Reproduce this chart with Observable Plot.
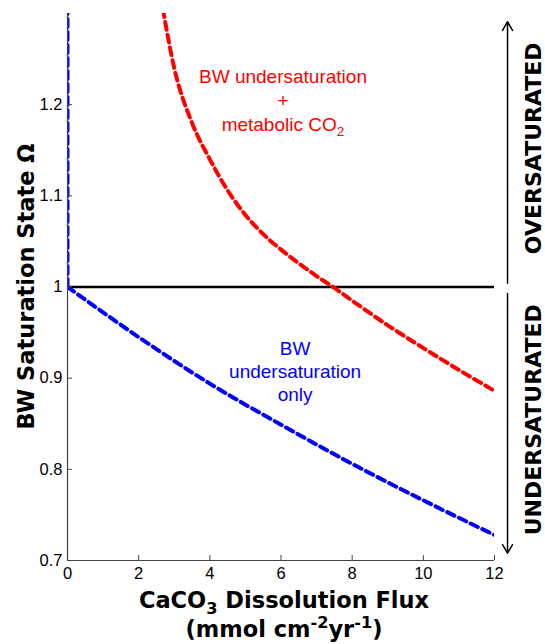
<!DOCTYPE html>
<html><head><meta charset="utf-8">
<script src="https://cdn.jsdelivr.net/npm/d3@7"></script>
<script src="https://cdn.jsdelivr.net/npm/@observablehq/plot@0.6"></script>
<style>body{margin:0;background:#fff} svg{display:block}</style>
</head><body><div id="chart"></div>
<script>
// Data
const xTicks = [0, 2, 4, 6, 8, 10, 12];
const yTicks = [0.7, 0.8, 0.9, 1, 1.1, 1.2];
const yTickLabels = ["0.7", "0.8", "0.9", "1", "1.1", "1.2"];

// BW undersaturation + metabolic CO2 (red)
const redX = [2.68, 3.0, 3.5, 4.0, 4.5, 5.0, 5.5, 6.0, 6.5, 7.0, 7.5, 8.0, 9.0, 10.0, 11.0, 12.0];
const redY = [1.305, 1.240, 1.180, 1.140, 1.106, 1.079, 1.058, 1.041, 1.026, 1.012, 0.999, 0.985, 0.958, 0.933, 0.909, 0.886];

// BW undersaturation only (blue)
const blueX = [0, 2, 4, 6, 8, 10, 12];
const blueY = [1.0, 0.945, 0.894, 0.849, 0.806, 0.766, 0.728];
// blue vertical part at zero flux (oversaturated waters)
const blueRiseX = [0, 0];
const blueRiseY = [1.0, 1.3];

const equilibrium = [1];
const regions = [
  {name: "OVERSATURATED", from: 1.004, to: 1.291, mid: 1.1516},
  {name: "UNDERSATURATED", from: 0.993, to: 0.708, mid: 0.8538}
];

const redRows = redX.map((x, i) => ({x, y: redY[i]}));
const blueRows = blueX.map((x, i) => ({x, y: blueY[i]}));
const blueRiseRows = blueRiseX.map((x, i) => ({x, y: blueRiseY[i]}));

const axisColor = "#444";
const dash = "8,5";

const chart = Plot.plot({
  width: 545, height: 644,
  marginLeft: 67, marginRight: 51, marginTop: 13, marginBottom: 84,
  x: {domain: [0, 12], label: null},
  y: {domain: [0.7, 1.3], label: null},
  style: {fontFamily: "'Liberation Sans', Arial, sans-serif", background: "white"},
  marks: [
    Plot.ruleY(equilibrium, {stroke: "black", strokeWidth: 2.5}),
    Plot.line(blueRiseRows, {x: "x", y: "y", stroke: "#0000ff", strokeWidth: 4, strokeDasharray: dash, clip: true}),
    Plot.line(blueRows, {x: "x", y: "y", stroke: "#0000ff", strokeWidth: 4, strokeDasharray: dash, curve: "monotone-x", clip: true}),
    Plot.line(redRows, {x: "x", y: "y", stroke: "#ff0000", strokeWidth: 4, strokeDasharray: dash, curve: "monotone-x", clip: true}),
    Plot.ruleX([0], {stroke: axisColor, strokeWidth: 1.2}),
    Plot.ruleY([0.7], {stroke: axisColor, strokeWidth: 1.2}),
    Plot.axisX(xTicks, {tickSize: -5, tickPadding: 12, tickFormat: d => String(d), stroke: axisColor, fontSize: 16.5, label: null}),
    Plot.axisY(yTicks, {tickSize: -5, tickPadding: 10, tickFormat: d => yTickLabels[yTicks.indexOf(d)], stroke: axisColor, fontSize: 16.5, label: null}),
    Plot.arrow(regions, {x1: 12.366, x2: 12.366, y1: "from", y2: "to", stroke: "black", strokeWidth: 1.5, headLength: 10})
  ]
});
document.getElementById("chart").appendChild(chart);

const svg = d3.select(chart);
const sx = chart.scale("x"), sy = chart.scale("y");
const boldFont = "'DejaVu Sans', sans-serif";
const plainFont = "'Liberation Sans', Arial, sans-serif";

function addText(x, y, parts, opts) {
  const t = svg.append("text")
    .attr("transform", `translate(${x},${y})` + (opts.rotate ? ` rotate(${opts.rotate})` : ""))
    .attr("text-anchor", "middle")
    .attr("font-family", opts.font)
    .attr("font-size", opts.size)
    .attr("font-weight", opts.weight || "normal")
    .attr("fill", opts.fill || "black");
  for (const p of parts) {
    const s = t.append("tspan").text(p.t);
    if (p.sub) s.attr("font-size", opts.size * 0.72).attr("dy", opts.size * 0.25);
    if (p.sup) s.attr("font-size", opts.size * 0.72).attr("dy", -opts.size * 0.4);
    if (p.back) s.attr("dy", p.back);
  }
  return t;
}

// Axis titles
addText(34, (sy.apply(0.7) + sy.apply(1.3)) / 2, [{t: "BW Saturation State Ω"}], {font: boldFont, size: 22.5, weight: "bold", rotate: -90});
addText(284, 608, [{t: "CaCO"}, {t: "3", sub: true}, {t: " Dissolution Flux", back: -22.5 * 0.25}], {font: boldFont, size: 22.5, weight: "bold"});
addText(284, 637, [{t: "(mmol cm"}, {t: "-2", sup: true}, {t: "yr", back: 22.5 * 0.4}, {t: "-1", sup: true}, {t: ")", back: 22.5 * 0.4}], {font: boldFont, size: 22.5, weight: "bold"});

// Region labels
for (const r of regions) {
  addText(541, sy.apply(r.mid), [{t: r.name}], {font: boldFont, size: 22, weight: "bold", rotate: -90});
}

// Curve annotations
const redLines = [[{t: "BW undersaturation"}], [{t: "+"}], [{t: "metabolic CO"}, {t: "2", sub: true}]];
redLines.forEach((parts, i) => addText(sx.apply(6.07), sy.apply(1.223) + i * 24, parts, {font: plainFont, size: 19, fill: "#ff0000"}));
const blueLines = [[{t: "BW"}], [{t: "undersaturation"}], [{t: "only"}]];
blueLines.forEach((parts, i) => addText(sx.apply(6.41), sy.apply(0.925) + i * 23, parts, {font: plainFont, size: 19, fill: "#0000ff"}));
</script>
</body></html>
